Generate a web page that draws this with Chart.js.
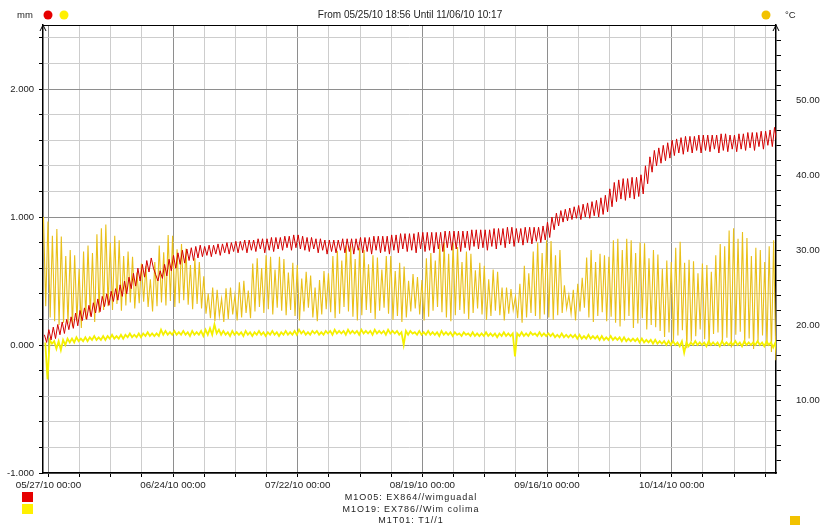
<!DOCTYPE html>
<html>
<head>
<meta charset="utf-8">
<script src="https://cdn.jsdelivr.net/npm/chart.js@4.4.0/dist/chart.umd.min.js"></script>
<style>
    html, body { margin: 0; padding: 0; background: #fff; }
    canvas { display: block; }
</style>
</head>
<body>
<canvas id="chart" width="826" height="529"></canvas>
<script>
// days are counted from 05/27/10 00:00, one entry per day starting at day -1
const firstDay = -1;
const xMin = -1.211;   // 05/25/10 18:56
const xMax = 163.428;  // 11/06/10 10:17

const title = 'From 05/25/10 18:56 Until 11/06/10 10:17';
const dateLabels = ['05/27/10 00:00', '06/24/10 00:00', '07/22/10 00:00', '08/19/10 00:00', '09/16/10 00:00', '10/14/10 00:00'];
const legendNames = ['M1O05: EX864//wimguadal', 'M1O19: EX786//Wim colima', 'M1T01: T1//1'];

// M1T01 temperature, daily peak and daily low (°C)
const tempHigh = [
    34.4, 33.8, 31.9, 32.8, 31.8, 29.2, 30.0, 29.3, 27.5, 29.8,
    30.6, 29.6, 32.1, 32.9, 33.4, 31.0, 31.9, 31.3, 29.2, 29.8,
    29.1, 27.0, 28.2, 27.9, 26.1, 28.4, 30.6, 29.7, 32.0, 31.9,
    30.1, 30.8, 30.2, 28.0, 28.9, 28.4, 26.5, 24.2, 25.0, 24.7,
    23.5, 24.9, 25.0, 24.0, 25.7, 25.9, 24.6, 28.2, 28.9, 27.6,
    29.3, 29.1, 27.4, 29.1, 28.8, 27.0, 28.3, 28.0, 26.2, 27.1,
    26.6, 25.0, 26.0, 27.2, 26.9, 29.2, 29.9, 28.6, 30.6, 30.6,
    28.8, 30.3, 30.0, 28.1, 29.3, 29.0, 27.4, 29.2, 29.2, 27.2,
    28.3, 27.8, 25.9, 26.8, 26.4, 26.0, 28.9, 29.6, 28.6, 30.8,
    31.0, 29.5, 31.0, 30.4, 28.4, 29.8, 29.5, 27.3, 28.3, 27.9,
    26.1, 27.4, 27.1, 25.0, 25.0, 24.8, 23.8, 25.5, 27.9, 26.9,
    29.8, 31.0, 29.6, 31.3, 31.2, 29.3, 30.0, 25.3, 24.0, 24.7,
    25.5, 26.3, 29.0, 30.0, 28.4, 29.5, 29.3, 29.1, 31.3, 31.5,
    30.0, 31.5, 31.3, 29.6, 31.0, 30.9, 28.9, 30.0, 29.4, 27.5,
    28.6, 28.4, 30.3, 31.1, 28.3, 28.7, 28.5, 26.9, 28.2, 28.0,
    27.1, 29.3, 30.8, 30.5, 32.6, 32.9, 31.5, 32.4, 31.6, 29.2,
    30.3, 30.0, 28.4, 30.5, 31.3
];
const tempLow = [
    22.5, 21.0, 20.5, 20.0, 20.3, 20.2, 19.8, 20.5, 19.6, 20.8,
    21.2, 20.4, 21.6, 22.0, 22.5, 22.0, 22.8, 21.9, 22.6, 23.0,
    22.2, 22.9, 23.1, 22.4, 21.8, 22.5, 23.0, 22.6, 23.2, 22.4,
    22.9, 23.3, 22.7, 22.1, 22.8, 22.2, 21.5, 20.9, 20.5, 21.2,
    20.4, 20.8, 21.4, 20.6, 21.0, 21.6, 20.9, 21.8, 22.4, 21.6,
    22.1, 21.4, 22.3, 21.9, 21.3, 22.0, 21.2, 20.6, 21.8, 22.3,
    21.0, 20.5, 21.4, 22.1, 21.7, 20.9, 21.5, 22.4, 21.8, 21.1,
    20.6, 21.3, 22.0, 21.6, 20.8, 21.9, 22.3, 21.5, 20.7, 21.2,
    20.4, 21.0, 21.8, 22.2, 21.4, 20.6, 21.1, 21.9, 22.4, 21.7,
    21.0, 20.5, 21.3, 22.0, 21.5, 20.8, 21.6, 22.2, 21.4, 20.7,
    21.2, 21.9, 21.3, 20.6, 21.5, 22.0, 20.9, 20.3, 21.0, 21.6,
    21.2, 20.8, 21.4, 21.0, 20.7, 21.3, 21.6, 22.2, 21.5, 20.6,
    21.8, 22.3, 21.0, 20.4, 21.2, 21.7, 20.5, 21.1, 20.3, 19.8,
    20.6, 21.2, 19.6, 20.2, 20.9, 19.4, 20.0, 19.7, 19.2, 18.4,
    19.0, 17.9, 18.6, 19.3, 16.9, 17.8, 18.5, 19.4, 18.1, 17.3,
    18.8, 19.0, 17.6, 18.3, 17.0, 18.7, 19.1, 17.5, 18.2, 16.8,
    17.9, 18.6, 17.2, 16.4, 15.3
];

// M1O05 (mm), daily level and daily dip
const wimguadalTop = [
    0.08, 0.12, 0.14, 0.16, 0.18, 0.20, 0.22, 0.25, 0.27, 0.29,
    0.31, 0.33, 0.36, 0.38, 0.40, 0.42, 0.44, 0.47, 0.50, 0.53,
    0.56, 0.60, 0.63, 0.66, 0.68, 0.55, 0.58, 0.63, 0.67, 0.70,
    0.72, 0.74, 0.75, 0.76, 0.77, 0.78, 0.77, 0.78, 0.78, 0.79,
    0.79, 0.80, 0.80, 0.81, 0.81, 0.82, 0.82, 0.82, 0.83, 0.83,
    0.83, 0.84, 0.84, 0.84, 0.85, 0.85, 0.86, 0.86, 0.85, 0.84,
    0.84, 0.83, 0.83, 0.82, 0.82, 0.82, 0.82, 0.83, 0.83, 0.83,
    0.83, 0.84, 0.84, 0.84, 0.85, 0.85, 0.85, 0.85, 0.86, 0.86,
    0.87, 0.87, 0.87, 0.87, 0.88, 0.88, 0.88, 0.88, 0.88, 0.88,
    0.89, 0.89, 0.89, 0.89, 0.89, 0.89, 0.90, 0.90, 0.90, 0.90,
    0.90, 0.91, 0.91, 0.91, 0.92, 0.92, 0.91, 0.91, 0.92, 0.92,
    0.92, 0.92, 0.93, 0.96, 1.00, 1.03, 1.05, 1.06, 1.07, 1.08,
    1.09, 1.10, 1.11, 1.12, 1.13, 1.15, 1.17, 1.22, 1.27, 1.29,
    1.30, 1.30, 1.31, 1.31, 1.33, 1.40, 1.47, 1.52, 1.54, 1.56,
    1.58, 1.60, 1.61, 1.62, 1.63, 1.63, 1.63, 1.64, 1.64, 1.64,
    1.64, 1.64, 1.65, 1.65, 1.64, 1.64, 1.65, 1.65, 1.66, 1.66,
    1.66, 1.67, 1.67, 1.68, 1.70
];
const wimguadalDip = [
    0.02, 0.04, 0.05, 0.08, 0.09, 0.12, 0.13, 0.15, 0.19, 0.20,
    0.22, 0.25, 0.26, 0.30, 0.31, 0.34, 0.35, 0.38, 0.40, 0.44,
    0.46, 0.50, 0.53, 0.57, 0.60, 0.50, 0.52, 0.54, 0.58, 0.60,
    0.63, 0.64, 0.66, 0.66, 0.68, 0.69, 0.70, 0.69, 0.71, 0.70,
    0.72, 0.71, 0.73, 0.72, 0.74, 0.72, 0.74, 0.73, 0.75, 0.72,
    0.74, 0.73, 0.75, 0.74, 0.76, 0.74, 0.76, 0.75, 0.74, 0.73,
    0.75, 0.72, 0.74, 0.71, 0.73, 0.72, 0.74, 0.72, 0.73, 0.71,
    0.74, 0.72, 0.73, 0.71, 0.74, 0.72, 0.73, 0.71, 0.74, 0.72,
    0.75, 0.73, 0.74, 0.72, 0.75, 0.73, 0.74, 0.72, 0.75, 0.73,
    0.76, 0.74, 0.75, 0.73, 0.76, 0.74, 0.77, 0.75, 0.76, 0.74,
    0.77, 0.75, 0.78, 0.76, 0.79, 0.77, 0.80, 0.78, 0.80, 0.79,
    0.81, 0.80, 0.82, 0.84, 0.90, 0.93, 0.96, 0.97, 0.98, 0.99,
    0.98, 1.00, 0.99, 1.01, 1.00, 1.02, 1.04, 1.08, 1.12, 1.14,
    1.13, 1.15, 1.14, 1.16, 1.18, 1.26, 1.35, 1.40, 1.42, 1.44,
    1.46, 1.48, 1.50, 1.49, 1.51, 1.50, 1.52, 1.50, 1.52, 1.51,
    1.53, 1.50, 1.52, 1.51, 1.53, 1.51, 1.53, 1.52, 1.54, 1.52,
    1.55, 1.53, 1.56, 1.55, 1.58
];

// M1O19 (mm), daily high and daily low
const colimaHigh = [
    0.02, 0.04, 0.03, 0.03, 0.04, 0.05, 0.05, 0.06, 0.05, 0.06,
    0.06, 0.07, 0.06, 0.07, 0.07, 0.08, 0.07, 0.08, 0.08, 0.09,
    0.08, 0.09, 0.09, 0.10, 0.09, 0.09, 0.12, 0.11, 0.10, 0.11,
    0.10, 0.11, 0.10, 0.11, 0.10, 0.11, 0.12, 0.13, 0.16, 0.12,
    0.11, 0.10, 0.11, 0.10, 0.10, 0.11, 0.10, 0.10, 0.11, 0.10,
    0.10, 0.11, 0.10, 0.10, 0.11, 0.10, 0.11, 0.12, 0.11, 0.10,
    0.11, 0.11, 0.10, 0.11, 0.11, 0.12, 0.11, 0.11, 0.12, 0.11,
    0.11, 0.12, 0.11, 0.11, 0.12, 0.11, 0.11, 0.12, 0.11, 0.11,
    0.10, 0.11, 0.11, 0.10, 0.11, 0.10, 0.11, 0.10, 0.10, 0.11,
    0.10, 0.10, 0.10, 0.09, 0.10, 0.09, 0.10, 0.09, 0.09, 0.10,
    0.09, 0.09, 0.09, 0.10, 0.09, 0.09, 0.09, 0.10, 0.09, 0.10,
    0.09, 0.10, 0.09, 0.09, 0.09, 0.08, 0.09, 0.08, 0.08, 0.08,
    0.08, 0.07, 0.08, 0.07, 0.07, 0.07, 0.06, 0.07, 0.06, 0.06,
    0.06, 0.05, 0.05, 0.05, 0.05, 0.04, 0.04, 0.04, 0.03, 0.03,
    0.03, 0.03, 0.02, 0.03, 0.02, 0.02, 0.03, 0.02, 0.02, 0.03,
    0.02, 0.02, 0.03, 0.02, 0.02, 0.03, 0.02, 0.03, 0.02, 0.02,
    0.03, 0.02, 0.03, 0.02, 0.02
];
const colimaLow = [
    -0.27, 0.01, -0.03, -0.04, 0.00, 0.02, 0.02, 0.03, 0.03, 0.03,
    0.04, 0.04, 0.04, 0.04, 0.05, 0.05, 0.05, 0.05, 0.06, 0.06,
    0.06, 0.06, 0.07, 0.07, 0.07, 0.07, 0.08, 0.08, 0.08, 0.08,
    0.08, 0.08, 0.07, 0.08, 0.08, 0.07, 0.08, 0.08, 0.09, 0.08,
    0.08, 0.07, 0.08, 0.08, 0.07, 0.08, 0.07, 0.08, 0.08, 0.07,
    0.08, 0.08, 0.07, 0.08, 0.08, 0.08, 0.08, 0.09, 0.08, 0.08,
    0.09, 0.08, 0.08, 0.09, 0.08, 0.09, 0.09, 0.08, 0.09, 0.09,
    0.08, 0.09, 0.09, 0.08, 0.09, 0.09, 0.08, 0.09, 0.09, 0.08,
    0.00, 0.08, 0.09, 0.08, 0.08, 0.08, 0.08, 0.08, 0.07, 0.08,
    0.08, 0.07, 0.08, 0.07, 0.08, 0.07, 0.07, 0.07, 0.07, 0.07,
    0.07, 0.06, 0.07, 0.07, 0.07, -0.09, 0.07, 0.07, 0.07, 0.08,
    0.07, 0.07, 0.07, 0.07, 0.06, 0.06, 0.06, 0.06, 0.06, 0.05,
    0.05, 0.05, 0.05, 0.05, 0.04, 0.04, 0.04, 0.04, 0.04, 0.03,
    0.03, 0.03, 0.03, 0.02, 0.02, 0.02, 0.01, 0.01, 0.01, 0.00,
    0.00, 0.00, -0.01, -0.06, -0.01, 0.00, 0.00, 0.00, -0.01, 0.00,
    0.00, -0.01, 0.00, 0.00, 0.00, 0.00, -0.01, 0.00, 0.00, 0.00,
    0.00, -0.01, 0.00, -0.02, -0.12
];

const RED = '#d40000';
const YELLOW = '#f4f000';
const GOLD = '#e9c01a';
const FONT = '"Liberation Sans", Arial, sans-serif';

Chart.defaults.font.family = FONT;
Chart.defaults.font.size = 9.5;
Chart.defaults.color = '#222';

// two samples per day: one at the daily high, one at the daily low
function dailyPoints(highs, lows, highAt, lowAt) {
    const points = [];
    highs.forEach((high, i) => {
        const day = firstDay + i;
        points.push({ x: day + highAt, y: high });
        points.push({ x: day + lowAt, y: lows[i] });
    });
    return points;
}

const isMajorDay = v => v % 28 === 0;
const isWhole = v => Math.abs(v - Math.round(v)) < 1e-6;

const decorations = {
    id: 'decorations',
    afterDraw(chart) {
        const ctx = chart.ctx;
        const area = chart.chartArea;
        ctx.save();

        // top frame line and axis arrows
        ctx.strokeStyle = '#000';
        ctx.lineWidth = 1;
        ctx.beginPath();
        ctx.moveTo(area.left, area.top + 0.5);
        ctx.lineTo(area.right, area.top + 0.5);
        for (const x of [area.left, area.right]) {
            ctx.moveTo(x - 3, area.top + 6);
            ctx.lineTo(x, area.top);
            ctx.lineTo(x + 3, area.top + 6);
        }
        ctx.stroke();

        ctx.font = '9.5px ' + FONT;
        ctx.fillStyle = '#222';
        ctx.textBaseline = 'middle';
        ctx.textAlign = 'left';
        ctx.fillText('mm', 17, 15);
        ctx.fillText('°C', 785, 15);
        ctx.font = '10px ' + FONT;
        ctx.textAlign = 'center';
        ctx.fillText(title, 410, 15);

        const dot = (x, color) => {
            ctx.fillStyle = color;
            ctx.beginPath();
            ctx.arc(x, 15, 4.5, 0, Math.PI * 2);
            ctx.fill();
        };
        dot(48, '#e60000');
        dot(64, '#fff000');
        dot(766, '#f2c200');

        // legend
        ctx.fillStyle = '#e60000';
        ctx.fillRect(22, 492, 11, 10);
        ctx.fillStyle = '#fff000';
        ctx.fillRect(22, 504, 11, 10);
        ctx.fillStyle = '#f2c200';
        ctx.fillRect(790, 516, 10, 9);

        ctx.font = '9px ' + FONT;
        ctx.fillStyle = '#222';
        ctx.letterSpacing = '1px';
        legendNames.forEach((name, i) => ctx.fillText(name, 411, 498 + i * 11.5));
        ctx.restore();
    }
};

new Chart(document.getElementById('chart'), {
    type: 'line',
    data: {
        datasets: [
            {
                label: legendNames[0],
                data: dailyPoints(wimguadalTop, wimguadalDip, 0.1, 0.6),
                yAxisID: 'y',
                borderColor: RED,
                borderWidth: 1
            },
            {
                label: legendNames[1],
                data: dailyPoints(colimaHigh, colimaLow, 0.3, 0.8),
                yAxisID: 'y',
                borderColor: YELLOW,
                borderWidth: 1.8
            },
            {
                label: legendNames[2],
                data: dailyPoints(tempHigh, tempLow, -0.1, 0.4),
                yAxisID: 'y2',
                borderColor: GOLD,
                borderWidth: 1.1
            }
        ]
    },
    options: {
        responsive: false,
        animation: false,
        parsing: false,
        elements: {
            point: { radius: 0 },
            line: { tension: 0 }
        },
        layout: { padding: { top: 25 } },
        plugins: {
            legend: { display: false },
            tooltip: { enabled: false }
        },
        scales: {
            x: {
                type: 'linear',
                min: xMin,
                max: xMax,
                afterBuildTicks: scale => {
                    const ticks = [];
                    for (let d = 0; d <= xMax; d += 7) ticks.push({ value: d });
                    scale.ticks = ticks;
                },
                afterFit: scale => { scale.height = 56; },
                ticks: {
                    autoSkip: false,
                    maxRotation: 0,
                    padding: 2,
                    font: { size: 9.8 },
                    callback: v => isMajorDay(v) ? dateLabels[v / 28] : ''
                },
                grid: {
                    color: ctx => isMajorDay(ctx.tick.value) ? '#8e8e8e' : '#cdcdcd',
                    tickColor: '#000',
                    tickLength: 4
                },
                border: { color: '#000', width: 1.5 }
            },
            y: {
                position: 'left',
                min: -1,
                max: 2.5,
                afterBuildTicks: scale => {
                    const ticks = [];
                    for (let i = 0; i <= 17; i++) ticks.push({ value: Math.round((-1 + i * 0.2) * 10) / 10 });
                    scale.ticks = ticks;
                },
                afterFit: scale => { scale.width = 43; },
                ticks: {
                    padding: 5,
                    callback: v => isWhole(v) ? v.toFixed(3) : ''
                },
                grid: {
                    color: ctx => isWhole(ctx.tick.value) ? '#8e8e8e' : '#cdcdcd',
                    tickColor: '#000',
                    tickLength: 4
                },
                border: { color: '#000', width: 1.5 }
            },
            y2: {
                position: 'right',
                min: 0.27,
                max: 60,
                afterBuildTicks: scale => {
                    const ticks = [];
                    for (let t = 2; t < 60; t += 2) ticks.push({ value: t });
                    scale.ticks = ticks;
                },
                afterFit: scale => { scale.width = 50; },
                ticks: {
                    padding: 15,
                    callback: v => v % 10 === 0 ? v.toFixed(2) : ''
                },
                grid: {
                    drawOnChartArea: false,
                    tickColor: '#000',
                    tickLength: 5
                },
                border: { color: '#000', width: 1.5 }
            }
        }
    },
    plugins: [decorations]
});
</script>
</body>
</html>
